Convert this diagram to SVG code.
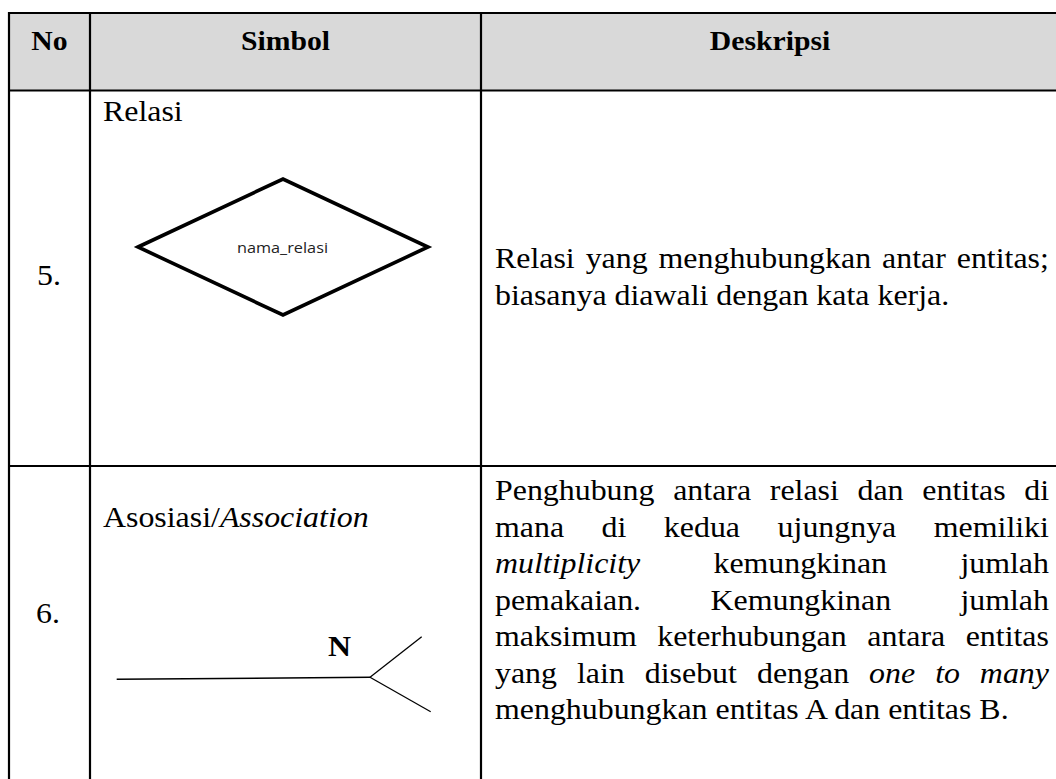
<svg xmlns="http://www.w3.org/2000/svg" width="1056" height="779" viewBox="0 0 1056 779">
<style>
.t{font-family:"Liberation Serif","Times New Roman",serif;font-size:29px;fill:#000}
.h{font-family:"Liberation Serif","Times New Roman",serif;font-size:27px;font-weight:bold;fill:#000}
.i{font-style:italic}
.grid{stroke:#000;stroke-width:2.2;fill:none}
.sym{stroke:#000;fill:none}
.small{font-family:"Open Sans","Liberation Sans",sans-serif;font-size:15px;fill:#222}
</style>
<rect width="1056" height="779" fill="#fff"/>
<g id="header">
<rect x="9" y="13" width="1060" height="78" fill="#d9d9d9"/>
<g transform="scale(1.1 1)">
<text class="h" x="45" y="50" text-anchor="middle">No</text>
<text class="h" x="259.5" y="50" text-anchor="middle">Simbol</text>
<text class="h" x="700" y="50" text-anchor="middle">Deskripsi</text>
</g>
</g>
<g id="grid">
<line class="grid" x1="9" y1="13" x2="1060" y2="13"/>
<line class="grid" x1="9" y1="90.5" x2="1060" y2="90.5"/>
<line class="grid" x1="9" y1="466" x2="1060" y2="466"/>
<line class="grid" x1="9" y1="12" x2="9" y2="785"/>
<line class="grid" x1="90" y1="12" x2="90" y2="785"/>
<line class="grid" x1="481" y1="12" x2="481" y2="785"/>
</g>
<g id="row5">
<g transform="scale(1.1 1)">
<text class="t" x="33.6" y="285">5.</text>
<text class="t" x="93.6" y="121">Relasi</text>
<text class="t" y="268"><tspan x="450">Relasi</tspan><tspan x="532.4">yang</tspan><tspan x="598.7">menghubungkan</tspan><tspan x="801.9">antar</tspan><tspan x="869.8">entitas;</tspan></text>
<text class="t" x="450" y="305">biasanya diawali dengan kata kerja.</text>
</g>
<g id="relasi-diamond">
<polygon class="sym" stroke-width="3.6" stroke-linejoin="miter" points="138,247 283,179 428,247 283,315"/>
<text class="small" x="237" y="253" textLength="91" lengthAdjust="spacingAndGlyphs">nama_relasi</text>
</g>
</g>
<g id="row6">
<g transform="scale(1.1 1)">
<text class="t" x="32.7" y="623">6.</text>
<text class="t" x="93.6" y="527">Asosiasi/<tspan class="i">Association</tspan></text>
<text class="t" y="500"><tspan x="450">Penghubung</tspan><tspan x="612">antara</tspan><tspan x="699.8">relasi</tspan><tspan x="779.5">dan</tspan><tspan x="838.5">entitas</tspan><tspan x="931.1">di</tspan></text>
<text class="t" y="537"><tspan x="450">mana</tspan><tspan x="546.9">di</tspan><tspan x="603.5">kedua</tspan><tspan x="706.9">ujungnya</tspan><tspan x="848.9">memiliki</tspan></text>
<text class="t" y="573"><tspan x="450" class="i">multiplicity</tspan><tspan x="648.6">kemungkinan</tspan><tspan x="873.1">jumlah</tspan></text>
<text class="t" y="610"><tspan x="450">pemakaian.</tspan><tspan x="645.9">Kemungkinan</tspan><tspan x="873.1">jumlah</tspan></text>
<text class="t" y="646"><tspan x="450">maksimum</tspan><tspan x="597.5">keterhubungan</tspan><tspan x="788.5">antara</tspan><tspan x="877.9">entitas</tspan></text>
<text class="t" y="683"><tspan x="450">yang</tspan><tspan x="524.5">lain</tspan><tspan x="586.2">disebut</tspan><tspan x="688.2">dengan</tspan><tspan x="790.1" class="i">one</tspan><tspan x="850.2" class="i">to</tspan><tspan x="890.8" class="i">many</tspan></text>
<text class="t" x="450" y="719">menghubungkan entitas A dan entitas B.</text>
<text class="t" x="298.2" y="656" font-weight="bold">N</text>
</g>
</g>
<g id="connectors">
<line class="sym" stroke-width="1.5" x1="116.7" y1="679.3" x2="370" y2="677.3"/>
<line class="sym" stroke-width="1.3" x1="370" y1="677.3" x2="421.7" y2="636.7"/>
<line class="sym" stroke-width="1.3" x1="370" y1="677.3" x2="430.7" y2="711.7"/>
</g>
</svg>
